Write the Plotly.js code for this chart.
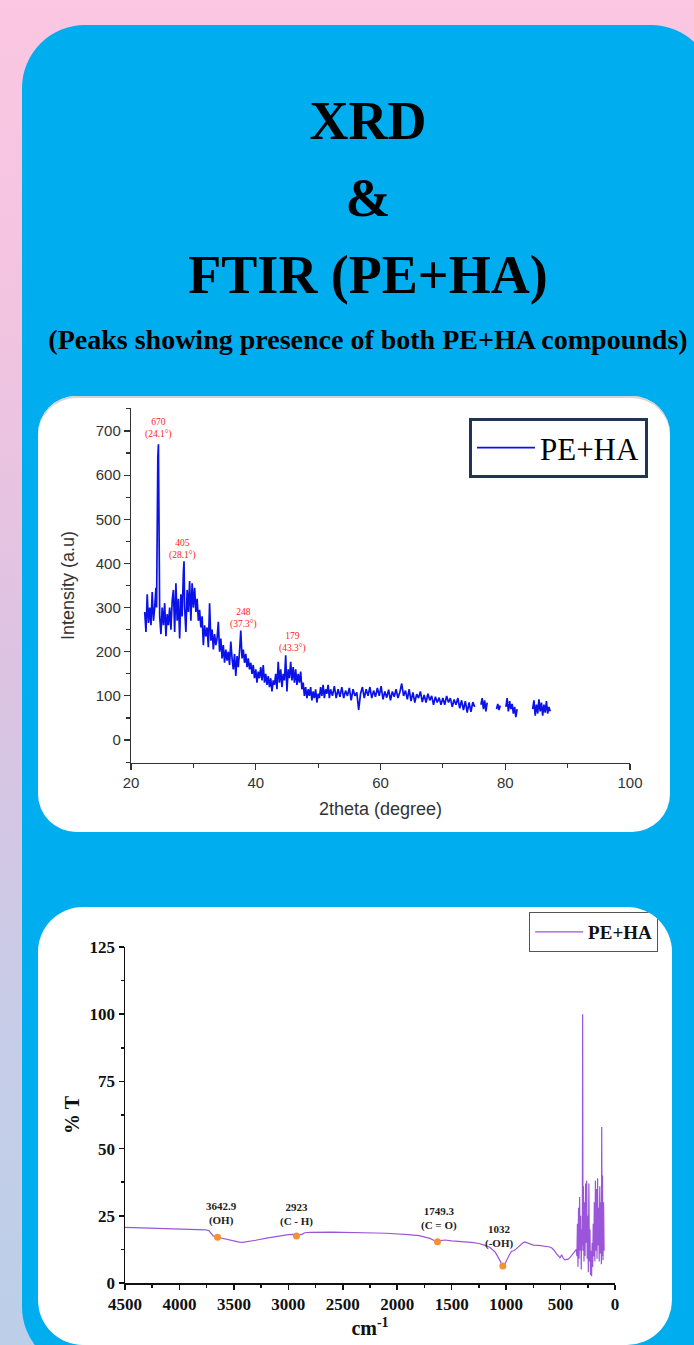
<!DOCTYPE html>
<html><head><meta charset="utf-8">
<script src="https://cdn.plot.ly/plotly-3.0.1.min.js"></script>
<style>
html,body{margin:0;padding:0;width:694px;height:1345px;overflow:hidden;}
body{position:relative;background:linear-gradient(180deg,#fbc7e2 0%,#f3c4e0 22%,#dcc3e2 50%,#c6cde8 78%,#bccfe8 100%);font-family:'Liberation Serif','Times New Roman',serif;}
.card{position:absolute;left:22px;top:25px;width:692px;height:1345px;background:#00aeef;border-radius:63px;}
.t{position:absolute;left:0;width:736px;text-align:center;font-weight:bold;color:#000;white-space:nowrap;}
.big{font-size:54px;line-height:54px;}
.sub{font-size:28px;line-height:28px;}
.panel{position:absolute;background:#fff;overflow:hidden;}
#xrdPanel{left:38px;top:396px;width:632px;height:436px;border-radius:38px;box-shadow:inset 0 2px 0 #d4d4d4;}
#ftirPanel{left:38px;top:907px;width:634px;height:438px;border-radius:45px;}
#xrd,#ftir{position:absolute;left:0;top:0;}
</style></head>
<body>
<div class="card"></div>
<div class="t big" style="top:94px">XRD</div>
<div class="t big" style="top:171px">&amp;</div>
<div class="t big" style="top:248px">FTIR (PE+HA)</div>
<div class="t sub" style="top:326px">(Peaks showing presence of both PE+HA compounds)</div>
<div class="panel" id="xrdPanel"><div id="xrd"></div></div>
<div class="panel" id="ftirPanel"><div id="ftir"></div></div>
<script>
// ---------------- XRD data (2theta in degrees, intensity in a.u.) ----------------
const xrdTheta = [
 22.2,22.4,22.6,22.8,23.0,23.2,23.4,23.6,23.8,24.0,
 24.1,24.2,24.3,24.4,24.5,24.6,24.8,25.0,
 25.2,25.4,25.6,25.8,26.0,26.2,26.4,26.6,26.8,27.0,
 27.2,27.4,27.6,27.8,28.0,28.2,28.4,28.5,28.6,28.8,29.0,
 29.2,29.4,29.6,29.8,30.0,30.2,30.4,30.6,30.8,31.0,
 31.2,31.4,31.6,31.8,32.0,32.2,32.4,32.6,32.8,33.0,
 33.2,33.4,33.6,33.8,34.0,34.2,34.4,34.6,34.8,35.0,
 35.2,35.4,35.6,35.8,36.0,36.2,36.4,36.6,36.8,37.0,
 37.2,37.4,37.6,37.8,38.0,38.2,38.4,38.6,38.8,39.0,
 39.2,39.4,39.6,39.8,40.0,40.2,40.4,40.6,40.8,41.0,
 41.2,41.4,41.6,41.8,42.0,42.2,42.4,42.6,42.8,43.0,
 43.2,43.4,43.6,43.8,44.0,44.2,44.4,44.6,44.8,45.0,
 45.2,45.4,45.6,45.8,46.0,46.2,46.4,46.6,46.8,47.0,
 47.2,47.4,47.6,47.8,48.0,48.2,48.4,48.6,48.8,49.0,
 49.2,49.4,49.6,49.8,50.0,50.2,50.4,50.6,50.8,51.0,
 51.2,51.4,51.6,51.8,52.0,
 52.3,52.6,52.9,53.2,53.5,53.8,54.1,54.4,54.7,55.0,
 55.3,55.6,55.9,56.2,56.5,56.8,57.1,57.4,57.7,58.0,
 58.3,58.6,58.9,59.2,59.5,59.8,60.1,60.4,60.7,61.0,
 61.3,61.6,61.9,62.2,62.5,62.8,63.1,63.4,63.7,64.0,
 64.3,64.6,64.9,65.2,65.5,65.8,66.1,66.4,66.7,67.0,
 67.3,67.6,67.9,68.2,68.5,68.8,69.1,69.4,69.7,70.0,
 70.3,70.6,70.9,71.2,71.5,71.8,72.1,72.4,72.7,73.0,
 73.3,73.6,73.9,74.2,74.5,74.8,75.1,
 75.6,
 76.1,76.3,76.5,76.7,76.9,77.1,
 77.8,
 78.6,78.8,79.0,79.2,
 79.6,
 80.1,80.3,80.5,80.7,80.9,81.1,81.3,81.5,81.7,81.9,
 83.0,
 84.4,84.6,84.8,85.0,85.2,85.4,85.6,85.8,86.0,86.2,86.4,86.6,86.8,87.0,87.2
];
const xrdIntensity = [
 290,245,330,265,300,260,335,270,300,345,
 300,520,640,670,510,280,240,300,
 260,310,235,285,260,300,250,315,340,245,
 355,270,320,230,330,280,380,405,300,245,340,
 290,360,270,355,300,345,290,320,270,295,
 255,280,215,260,235,255,210,310,225,250,
 205,240,215,230,268,200,230,185,215,175,
 205,180,200,170,223,185,160,195,145,190,
 165,200,248,185,205,175,195,165,185,160,
 175,150,170,140,160,130,155,140,165,135,
 170,130,150,125,145,120,140,110,135,125,
 150,115,177,130,160,120,150,135,192,110,
 160,140,177,135,165,130,160,125,150,130,
 155,115,130,100,120,95,115,100,120,90,
 110,95,115,85,105,95,120,100,125,95,
 115,105,125,95,115,
 100,122,95,115,98,120,95,112,100,118,
 90,115,100,108,68,105,120,95,115,100,
 120,95,112,98,118,100,122,92,110,96,
 114,90,110,98,115,95,108,128,100,112,
 92,115,88,108,85,104,95,110,86,102,
 85,105,90,100,80,98,85,96,80,95,
 80,100,85,95,75,92,80,95,72,90,
 68,88,62,85,64,86,75,
 null,
 80,95,70,90,65,85,
 null,
 70,82,68,78,
 null,
 75,95,65,88,70,82,60,75,52,70,
 null,
 70,90,55,80,60,92,65,85,55,80,62,88,60,75,65
];
// labelled XRD peaks (label anchor in data units) and their texts
const xrdLabelTheta = [24.35, 28.3, 38.0, 45.9];
const xrdLabelIntensity = [684, 411, 253, 199];
const xrdLabelValue = ['670', '405', '248', '179'];
const xrdLabelAngle = ['24.1°', '28.1°', '37.3°', '43.3°'];

// ---------------- FTIR data (wavenumber cm-1, %T) ----------------
const ftirWavenumber = [
 4500,4400,4300,4200,4100,4050,3950,3850,3760,3730,
 3710,3690,3670,3650,3600,3550,3500,3450,3420,3380,
 3300,3200,3100,3000,2950,2900,2870,2850,2800,2700,
 2600,2500,2400,2300,2200,2100,2000,1900,1800,1750,
 1700,1660,1630,1600,1560,1500,1450,1400,1350,1300,
 1250,1200,1150,1100,1080,1060,1040,1030,1010,990,
 970,950,930,910,890,870,850,830,800,780,
 750,700,650,620,600,580,560,540,520,505,
 490,475,460,445,430,410,390,370,355,
 350,345,340,335,330,325,320,315,310,305,
 300,297,294,290,285,280,275,270,265,260,
 255,250,245,240,235,230,225,220,215,210,
 205,200,195,190,185,180,175,170,165,160,
 155,150,145,140,135,130,125,122,118,115,
 110,105,100
];
const ftirTransmittance = [
 20.7,20.6,20.6,20.5,20.3,20.1,20.1,20.0,19.8,19.5,
 18.5,17.5,17.2,17.0,16.5,16.0,15.6,15.2,15.1,15.3,
 15.9,16.7,17.4,18.0,18.1,17.8,18.2,18.7,18.8,18.9,
 18.9,18.8,18.8,18.7,18.6,18.5,18.3,18.0,17.6,17.2,
 16.6,15.8,15.3,15.8,16.0,15.7,15.6,15.4,15.2,15.0,
 14.7,14.1,13.3,11.5,10.2,8.6,7.0,6.3,7.2,9.0,
 10.5,11.8,12.0,12.6,13.4,14.2,14.8,15.3,14.9,14.6,
 14.1,14.0,13.7,13.6,13.4,13.0,12.2,11.0,10.1,9.4,
 10.5,9.2,8.6,8.8,8.9,9.6,10.8,11.8,12.5,
 10,22,6,28,9,32,12,25,5,20,
 14,100,12,36,8,30,10,37,15,38,
 9,25,4,37,8,20,3,12,2.5,15,
 6,22,10,30,8,38,12,35,9,39,
 14,28,8,36,11,30,7,58,10,40,
 8.5,30,12
];
// marked FTIR bands
const ftirMarkWavenumber = [3650, 2925, 1630, 1030];
const ftirMarkTransmittance = [17.0, 17.5, 15.3, 6.3];
const ftirMarkLabel = ['3642.9<br>(OH)', '2923<br>(C - H)', '1749.3<br>(C = O)', '1032<br>(-OH)'];
const ftirLabelShiftX = [4, 0, 1, -4];
const ftirLabelShiftY = [8, 6, 8, 14];

const serif = 'Liberation Serif, Times New Roman, serif';
const sans = 'Liberation Sans, Arial, sans-serif';

// ---------------- XRD chart ----------------
const xrdTraces = [{
  type: 'scatter', mode: 'lines', x: xrdTheta, y: xrdIntensity,
  name: 'PE+HA', connectgaps: false,
  line: {color: '#0a12e8', width: 1.7}
}];
const xrdAnn = xrdLabelTheta.map((t, i) => ({
  x: t, y: xrdLabelIntensity[i], xref: 'x', yref: 'y',
  text: xrdLabelValue[i] + '<br>(' + xrdLabelAngle[i] + ')',
  showarrow: false, yanchor: 'bottom', xanchor: 'center', yshift: -4,
  font: {family: serif, size: 9.5, color: '#ff1a1a'}
}));
const axisCommonXrd = {
  showgrid: false, zeroline: false, showline: true, linecolor: '#333', linewidth: 1.2,
  ticks: 'outside', ticklen: 6, tickwidth: 1.2, tickcolor: '#333',
  tickfont: {family: sans, size: 15, color: '#333'}
};
const xrdLayout = {
  width: 632, height: 436,
  margin: {l: 93, r: 40, t: 12, b: 69, autoexpand: false},
  paper_bgcolor: 'rgba(0,0,0,0)', plot_bgcolor: 'rgba(0,0,0,0)',
  showlegend: true,
  xaxis: Object.assign({}, axisCommonXrd, {
    range: [20, 100], tick0: 20, dtick: 20,
    minor: {ticks: 'outside', ticklen: 4, dtick: 10, tick0: 20, tickcolor: '#333', showgrid: false},
    title: {text: '2theta (degree)', font: {family: sans, size: 18, color: '#333'}, standoff: 12}
  }),
  yaxis: Object.assign({}, axisCommonXrd, {
    range: [-52, 752], tick0: 0, dtick: 100,
    minor: {ticks: 'outside', ticklen: 4, dtick: 50, tick0: 0, tickcolor: '#333', showgrid: false},
    title: {text: 'Intensity (a.u)', font: {family: sans, size: 18, color: '#333'}, standoff: 16}
  }),
  legend: {x: 1.036, xanchor: 'right', y: 0.972, yanchor: 'top', itemwidth: 58,
    bgcolor: '#fff', bordercolor: '#1f3552', borderwidth: 3,
    font: {family: serif, size: 31, color: '#000'}},
  annotations: xrdAnn
};
Plotly.newPlot('xrd', xrdTraces, xrdLayout, {staticPlot: true});

// ---------------- FTIR chart ----------------
const ftirTraces = [{
  type: 'scatter', mode: 'lines', x: ftirWavenumber, y: ftirTransmittance,
  name: 'PE+HA', line: {color: '#9b55d8', width: 1.2}
}, {
  type: 'scatter', mode: 'markers', x: ftirMarkWavenumber, y: ftirMarkTransmittance,
  showlegend: false, marker: {color: '#f39234', size: 7}
}];
const ftirAnn = ftirMarkWavenumber.map((w, i) => ({
  x: w, y: ftirMarkTransmittance[i], xref: 'x', yref: 'y',
  text: ftirMarkLabel[i], showarrow: false, yanchor: 'bottom', xanchor: 'center',
  xshift: ftirLabelShiftX[i], yshift: ftirLabelShiftY[i],
  font: {family: serif, size: 11, color: '#222', weight: 'bold'}
}));
const axisCommonFtir = {
  showgrid: false, zeroline: false, showline: true, linecolor: '#111', linewidth: 1.5,
  ticks: 'outside', ticklen: 5, tickwidth: 1.5, tickcolor: '#111',
  tickfont: {family: serif, size: 17, color: '#111', weight: 'bold'}
};
const ftirLayout = {
  width: 634, height: 438,
  margin: {l: 87, r: 57, t: 40, b: 62, autoexpand: false},
  paper_bgcolor: 'rgba(0,0,0,0)', plot_bgcolor: 'rgba(0,0,0,0)',
  showlegend: true,
  xaxis: Object.assign({}, axisCommonFtir, {
    range: [4500, 0], tick0: 0, dtick: 500,
    minor: {ticks: 'outside', ticklen: 3, dtick: 250, tick0: 0, tickcolor: '#111', showgrid: false},
    title: {text: 'cm<sup>-1</sup>', font: {family: serif, size: 20, color: '#111', weight: 'bold'}, standoff: 8}
  }),
  yaxis: Object.assign({}, axisCommonFtir, {
    range: [0, 125], tick0: 0, dtick: 25,
    minor: {ticks: 'outside', ticklen: 3, dtick: 12.5, tick0: 0, tickcolor: '#111', showgrid: false},
    title: {text: '% T', font: {family: serif, size: 20, color: '#111', weight: 'bold'}, standoff: 4}
  }),
  legend: {x: 1.088, xanchor: 'right', y: 1.104, yanchor: 'top', itemwidth: 48,
    bgcolor: '#fff', bordercolor: '#555', borderwidth: 1,
    font: {family: serif, size: 19, color: '#111', weight: 'bold'}},
  annotations: ftirAnn
};
Plotly.newPlot('ftir', ftirTraces, ftirLayout, {staticPlot: true});
</script>
</body></html>
